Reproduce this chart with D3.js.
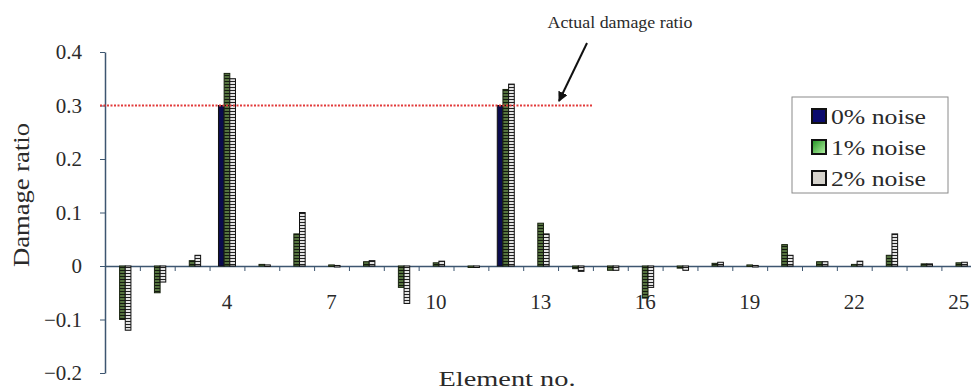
<!DOCTYPE html>
<html>
<head>
<meta charset="utf-8">
<script src="https://cdn.jsdelivr.net/npm/d3@7"></script>
<style>
  body { margin: 0; background: #fff; }
  svg { display: block; font-family: "Liberation Serif", "Times New Roman", serif; }
</style>
</head>
<body>
<svg></svg>
<script>
let width = 971, height = 392;

let svg = d3.select("svg")
    .attr("width", width)
    .attr("height", height);

// Data
const elements = d3.range(1, 26);
const seriesNames = ["0% noise", "1% noise", "2% noise"];
const noise0 = [0, 0, 0, 0.3, 0, 0, 0, 0, 0, 0, 0, 0.3, 0, 0, 0, 0, 0, 0, 0, 0, 0, 0, 0, 0, 0];
const noise1 = [-0.10, -0.05, 0.01, 0.36, 0.003, 0.06, 0.002, 0.008, -0.04, 0.006, -0.002, 0.33, 0.08,
                -0.005, -0.008, -0.06, -0.004, 0.005, 0.002, 0.04, 0.008, 0.003, 0.02, 0.004, 0.006];
const noise2 = [-0.12, -0.03, 0.02, 0.35, 0.002, 0.10, 0.001, 0.01, -0.07, 0.009, -0.002, 0.34, 0.06,
                -0.01, -0.008, -0.04, -0.008, 0.007, 0.001, 0.02, 0.008, 0.009, 0.06, 0.004, 0.007];
const yTicks = [-0.2, -0.1, 0, 0.1, 0.2, 0.3, 0.4];
const xTickLabels = [4, 7, 10, 13, 16, 19, 22, 25];
const actualDamage = 0.3;

const axisColor = "#3d5670";
const textColor = "#2a2a2a";
const serif = "'Liberation Serif', 'Times New Roman', serif";

// scales
const x = d3.scaleBand()
    .domain(elements)
    .range([105, 105 + 25 * 34.85])
    .padding(0);

const groupW = 17;
const x1 = d3.scaleBand()
    .domain(seriesNames)
    .range([x.bandwidth() / 2 - groupW / 2, x.bandwidth() / 2 + groupW / 2]);

const y = d3.scaleLinear()
    .domain([-0.2, 0.4])
    .range([373, 52]);

// patterns for the bar fills
const defs = svg.append("defs");

const p1 = defs.append("pattern")
    .attr("id", "pat1")
    .attr("patternUnits", "userSpaceOnUse")
    .attr("width", 4).attr("height", 3);
p1.append("rect").attr("width", 4).attr("height", 3).attr("fill", "#55733f");
p1.append("rect").attr("width", 4).attr("height", 1).attr("fill", "#141a10");

const p2 = defs.append("pattern")
    .attr("id", "pat2")
    .attr("patternUnits", "userSpaceOnUse")
    .attr("width", 4).attr("height", 3);
p2.append("rect").attr("width", 4).attr("height", 3).attr("fill", "#e4e4e4");
p2.append("rect").attr("width", 4).attr("height", 1).attr("fill", "#222");

const g1 = defs.append("linearGradient")
    .attr("id", "legGreen")
    .attr("x1", "0%").attr("y1", "0%")
    .attr("x2", "100%").attr("y2", "100%");
g1.append("stop").attr("offset", "0%").attr("stop-color", "#1f8f1f");
g1.append("stop").attr("offset", "100%").attr("stop-color", "#b8f5a8");

defs.append("marker")
    .attr("id", "arrowHead")
    .attr("viewBox", "0 0 10 10")
    .attr("refX", 9).attr("refY", 5)
    .attr("markerWidth", 5).attr("markerHeight", 5)
    .attr("orient", "auto")
    .append("path")
    .attr("d", "M0,0 L10,5 L0,10 Z")
    .attr("fill", "#111");

const fills = {"0% noise": "#0b0b4e", "1% noise": "url(#pat1)", "2% noise": "url(#pat2)"};
const strokes = {"0% noise": "#111", "1% noise": "#18220f", "2% noise": "#111"};

// y axis
const yAxis = svg.append("g")
    .attr("transform", `translate(${x.range()[0]},0)`)
    .call(d3.axisLeft(y).tickValues(yTicks).tickSize(5).tickSizeOuter(0)
        .tickFormat(d => d === 0 ? "0" : d3.format(".1f")(d)));
yAxis.select(".domain").attr("stroke", axisColor).attr("stroke-width", 1.5);
yAxis.selectAll(".tick line").attr("stroke", axisColor);
yAxis.selectAll("text")
    .attr("x", -23)
    .attr("fill", textColor)
    .style("font-size", "21px")
    .style("font-family", serif);

// element labels under the zero line
const xLab = svg.append("g")
    .attr("transform", `translate(0,${y(0)})`)
    .call(d3.axisBottom(x).tickValues(xTickLabels).tickSize(0).tickPadding(28));
xLab.select(".domain").remove();
xLab.selectAll("text")
    .attr("fill", textColor)
    .style("font-size", "21px")
    .style("font-family", serif);

// zero line with ticks between elements
const xb = d3.scaleLinear().domain([0, 25]).range(x.range());
const xAxis = svg.append("g")
    .attr("transform", `translate(0,${y(0)})`)
    .call(d3.axisBottom(xb).ticks(25).tickSize(5).tickSizeOuter(0).tickFormat(""));
xAxis.select(".domain").attr("stroke", axisColor).attr("stroke-width", 1.5);
xAxis.selectAll(".tick line").attr("stroke", axisColor);

// bars
const rows = elements.map((e, i) => ({
    element: e,
    values: [
        {key: "0% noise", value: noise0[i]},
        {key: "1% noise", value: noise1[i]},
        {key: "2% noise", value: noise2[i]}
    ]
}));

svg.append("g")
    .selectAll("g")
    .data(rows)
    .enter()
    .append("g")
    .attr("transform", d => `translate(${x(d.element)},0)`)
    .selectAll("rect")
    .data(d => d.values.filter(v => v.value !== 0))
    .enter()
    .append("rect")
    .attr("x", d => x1(d.key))
    .attr("width", x1.bandwidth())
    .attr("y", d => y(Math.max(0, d.value)))
    .attr("height", d => Math.max(1.5, Math.abs(y(d.value) - y(0))))
    .attr("fill", d => fills[d.key])
    .attr("stroke", d => strokes[d.key])
    .attr("stroke-width", 1);

// actual damage ratio line
svg.append("line")
    .attr("x1", 100).attr("x2", 592)
    .attr("y1", y(actualDamage)).attr("y2", y(actualDamage))
    .attr("stroke", "#e23a3a")
    .attr("stroke-width", 2)
    .attr("stroke-dasharray", "2,1.5");

// annotation
svg.append("text")
    .attr("x", 620).attr("y", 28)
    .attr("text-anchor", "middle")
    .attr("fill", textColor)
    .attr("textLength", 145)
    .attr("lengthAdjust", "spacingAndGlyphs")
    .style("font-size", "17px")
    .style("font-family", serif)
    .text("Actual damage ratio");

svg.append("line")
    .attr("x1", 587).attr("y1", 43)
    .attr("x2", 559).attr("y2", 101)
    .attr("stroke", "#111")
    .attr("stroke-width", 2)
    .attr("marker-end", "url(#arrowHead)");

// axis titles
svg.append("text")
    .attr("transform", "translate(29,195) rotate(-90)")
    .attr("text-anchor", "middle")
    .attr("fill", textColor)
    .attr("textLength", 144)
    .attr("lengthAdjust", "spacingAndGlyphs")
    .style("font-size", "23px")
    .style("font-family", serif)
    .text("Damage ratio");

svg.append("text")
    .attr("x", 507).attr("y", 386)
    .attr("text-anchor", "middle")
    .attr("fill", textColor)
    .attr("textLength", 137)
    .attr("lengthAdjust", "spacingAndGlyphs")
    .style("font-size", "20px")
    .style("font-family", serif)
    .text("Element no.");

// legend
const legend = svg.append("g");
legend.append("rect")
    .attr("x", 792).attr("y", 97)
    .attr("width", 156).attr("height", 96)
    .attr("fill", "#fff")
    .attr("stroke", "#8a8a8a")
    .attr("stroke-width", 1);

const legFill = {"0% noise": "#0a0a6e", "1% noise": "url(#legGreen)", "2% noise": "#d6d3cc"};
const legY = d3.scalePoint().domain(seriesNames).range([116, 178]);

const items = legend.selectAll("g.item")
    .data(seriesNames)
    .enter()
    .append("g")
    .attr("class", "item")
    .attr("transform", d => `translate(812,${legY(d)})`);

items.append("rect")
    .attr("x", 0).attr("y", -7)
    .attr("width", 14).attr("height", 14)
    .attr("fill", d => legFill[d])
    .attr("stroke", "#111")
    .attr("stroke-width", 2);

items.append("text")
    .attr("x", 19).attr("y", 0)
    .attr("dy", "0.35em")
    .attr("fill", textColor)
    .attr("textLength", 95)
    .attr("lengthAdjust", "spacingAndGlyphs")
    .style("font-size", "22px")
    .style("font-family", serif)
    .text(d => d);
</script>
</body>
</html>
